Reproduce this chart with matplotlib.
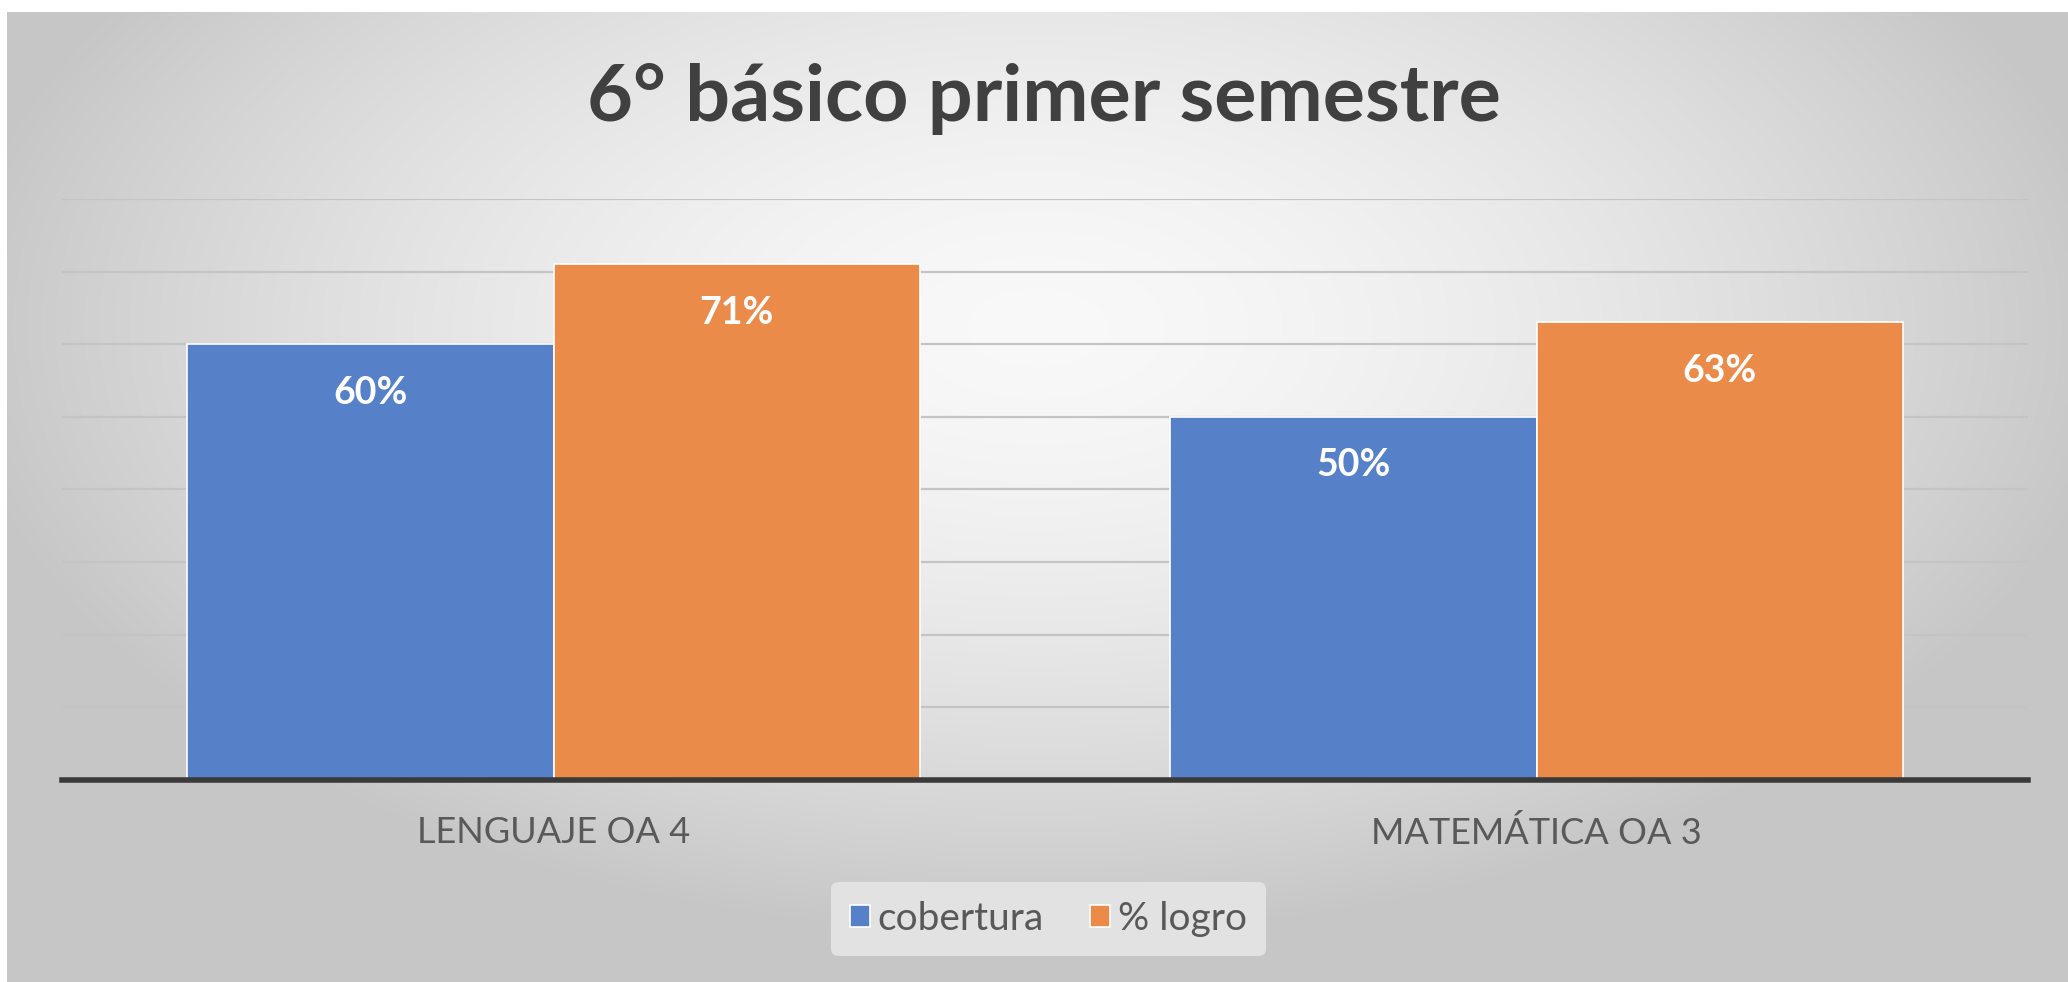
import numpy as np
import matplotlib
matplotlib.use("Agg")
from matplotlib import pyplot as plt

categories = ["LENGUAJE OA 4", "MATEMÁTICA OA 3"]
cobertura = [60, 50]
logro = [71, 63]
series_names = ["cobertura", "% logro"]
title = "6° básico primer semestre"

blue = "#5681C9"
orange = "#EB8B4A"

plt.rcParams['font.family'] = ['Lato', 'DejaVu Sans']

fig = plt.figure(figsize=(20.68, 9.82), dpi=100)

# radial gray gradient background (chart area frame)
bg = fig.add_axes([7 / 2068, 0, 1 - 7 / 2068, 1 - 12 / 982], zorder=0)
yy, xx = np.mgrid[-1:1:400j, -1:1:800j]
r = np.sqrt((xx / 1.05) ** 2 + ((yy + 0.35) / 1.25) ** 2)
r = np.clip(r, 0, 1)
lo, hi = 0.975, 0.78
shade = hi + (lo - hi) * (1 - r ** 1.6)
img = np.dstack([shade, shade, shade])
bg.imshow(img, aspect='auto', interpolation='bilinear')
bg.axis('off')

ax = fig.add_axes([0.030, 0.2057, 0.9507, 0.5917], zorder=1)
ax.patch.set_alpha(0)

x = np.arange(len(categories))
w = 0.373
b1 = ax.bar(x - w / 2, cobertura, w, color=blue, edgecolor='white', linewidth=1.2, label=series_names[0], zorder=3)
b2 = ax.bar(x + w / 2, logro, w, color=orange, edgecolor='white', linewidth=1.2, label=series_names[1], zorder=3)

for bars, vals in [(b1, cobertura), (b2, logro)]:
    for rect, v in zip(bars, vals):
        ax.annotate("{0}%".format(v), (rect.get_x() + rect.get_width() / 2, v),
                    xytext=(0, -35), textcoords='offset points',
                    ha='center', va='center', color='white',
                    fontsize=27, fontweight='bold', zorder=4)

ax.set_xlim(-0.5, 1.5)
ax.set_ylim(0, 80)
ax.set_yticks(np.arange(0, 81, 10))
ax.yaxis.grid(True, color='#c4c4c4', linewidth=1.6, zorder=0)
ax.tick_params(axis='y', left=False, labelleft=False)
ax.set_xticks(x)
ax.set_xticklabels(categories, fontsize=26, color='#595959')
ax.tick_params(axis='x', length=0, pad=26)
for s in ['top', 'right', 'left']:
    ax.spines[s].set_visible(False)
ax.spines['bottom'].set_color('#3a3a3a')
ax.spines['bottom'].set_linewidth(4)
ax.spines['bottom'].set_zorder(5)

fig.text(0.505, 0.899, title, ha='center', va='center', fontsize=57,
         fontweight='bold', color='#404040')

leg = fig.legend(loc='center', bbox_to_anchor=(0.507, 0.0642), ncol=2,
                 frameon=True, fontsize=28, handlelength=0.5, handleheight=0.5,
                 handletextpad=0.2, columnspacing=1.2, borderpad=0.5)
leg.get_frame().set_facecolor('#e2e2e2')
leg.get_frame().set_edgecolor('none')
leg.get_frame().set_alpha(1)
for t in leg.get_texts():
    t.set_color('#595959')

fig.savefig("out.png", dpi=100, facecolor='white')
